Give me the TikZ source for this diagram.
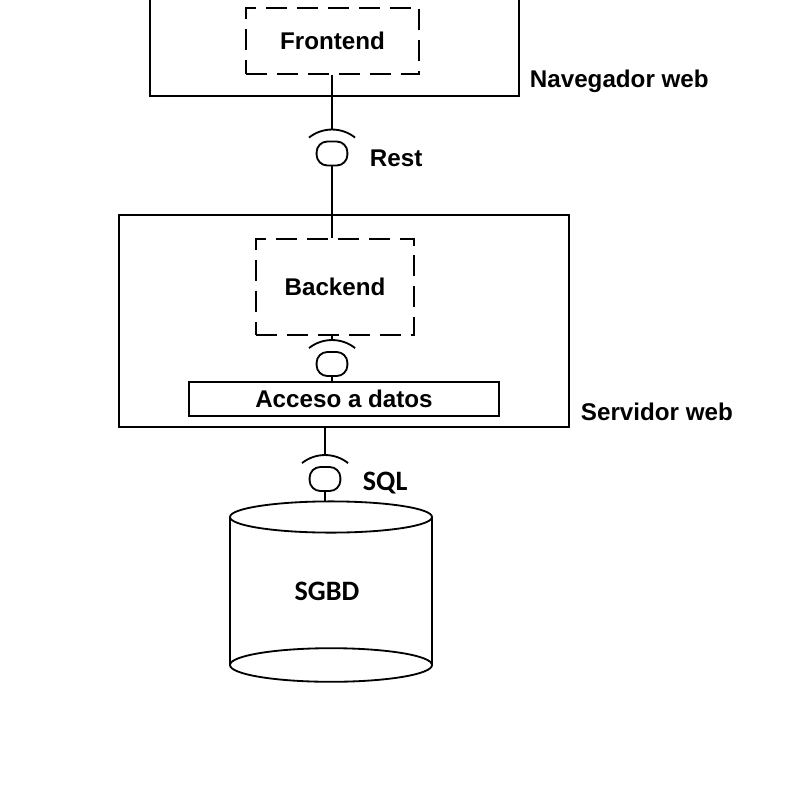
\documentclass[tikz,border=0pt]{standalone}
\usepackage{fontspec}
\setmainfont{Liberation Sans}
\newfontfamily\calfont{Carlito}
\usetikzlibrary{calc}

\tikzset{
  box/.style={draw, line width=1.3pt, inner sep=0pt, font=\bfseries\fontsize{17.2}{19}\selectfont},
  dashbox/.style={box, dash pattern=on 15pt off 7pt},
  ball/.style={draw, line width=1.3pt, rounded corners=0.27cm, minimum width=0.77cm, minimum height=0.6cm, inner sep=0pt},
  lbl/.style={anchor=west, inner sep=0pt, font=\bfseries\fontsize{17.2}{19}\selectfont},
  dblbl/.style={inner sep=0pt, font=\calfont\bfseries\fontsize{20}{22}\selectfont},
}

\begin{document}
\begin{tikzpicture}[x=0.025cm, y=-0.025cm, line width=1.3pt]
    \useasboundingbox (0,0) rectangle (800,800);
    % navegador
    \node[box, minimum width=9.225cm, minimum height=3.15cm] (nav) at (334.5,33) {};
    \node[dashbox, minimum width=4.325cm, minimum height=1.65cm] (front) at (332.5,41) {Frontend};
    \node[lbl] (navlbl) at (529,81) {Navegador web};
    % rest
    \node[ball] (b1) at (332,153.5) {};
    \coordinate (s1) at ([yshift=0.275cm]b1.north);
    \draw ([xshift=-0.575cm,yshift=0.075cm]b1.north) arc[start angle=128.5, end angle=51.5, radius=0.925cm];
    \node[lbl] (rest) at (369,158) {Rest};
    % servidor
    \node[box, minimum width=11.25cm, minimum height=5.3cm] (serv) at (344,321) {};
    \node[dashbox, minimum width=3.95cm, minimum height=2.4cm] (back) at (335,287) {Backend};
    \node[ball] (b2) at (332,364) {};
    \coordinate (s2) at ([yshift=0.275cm]b2.north);
    \draw ([xshift=-0.575cm,yshift=0.075cm]b2.north) arc[start angle=128.5, end angle=51.5, radius=0.925cm];
    \node[box, minimum width=7.75cm, minimum height=0.85cm] (acc) at (344,399) {Acceso a datos};
    \node[lbl] (servlbl) at (580,412) {Servidor web};
    % sql
    \node[ball] (b3) at (325,479) {};
    \coordinate (s3) at ([yshift=0.275cm]b3.north);
    \draw ([xshift=-0.575cm,yshift=0.075cm]b3.north) arc[start angle=128.5, end angle=51.5, radius=0.925cm];
    \node[lbl] (sql) at (362,483) {\calfont\fontsize{20}{22}\selectfont SQL};
    % sgbd
    \coordinate (dbtop) at (331,502);
    \draw (331,517) ellipse[x radius=2.525cm, y radius=0.39cm];
    \draw (230,517) -- (230,665);
    \draw (432,517) -- (432,665);
    \draw (331,665) ellipse[x radius=2.525cm, y radius=0.42cm];
    \node[dblbl] (db) at (327,591) {SGBD};
    % conectores
    \draw (front.south -| s1) -- (s1);
    \draw (b1.south) -- (b1.south |- back.north);
    \draw (back.south -| s2) -- (s2);
    \draw (b2.south) -- (b2.south |- acc.north);
    \draw (serv.south -| s3) -- (s3);
    \draw (b3.south) -- (b3.south |- dbtop);
\end{tikzpicture}
\end{document}
